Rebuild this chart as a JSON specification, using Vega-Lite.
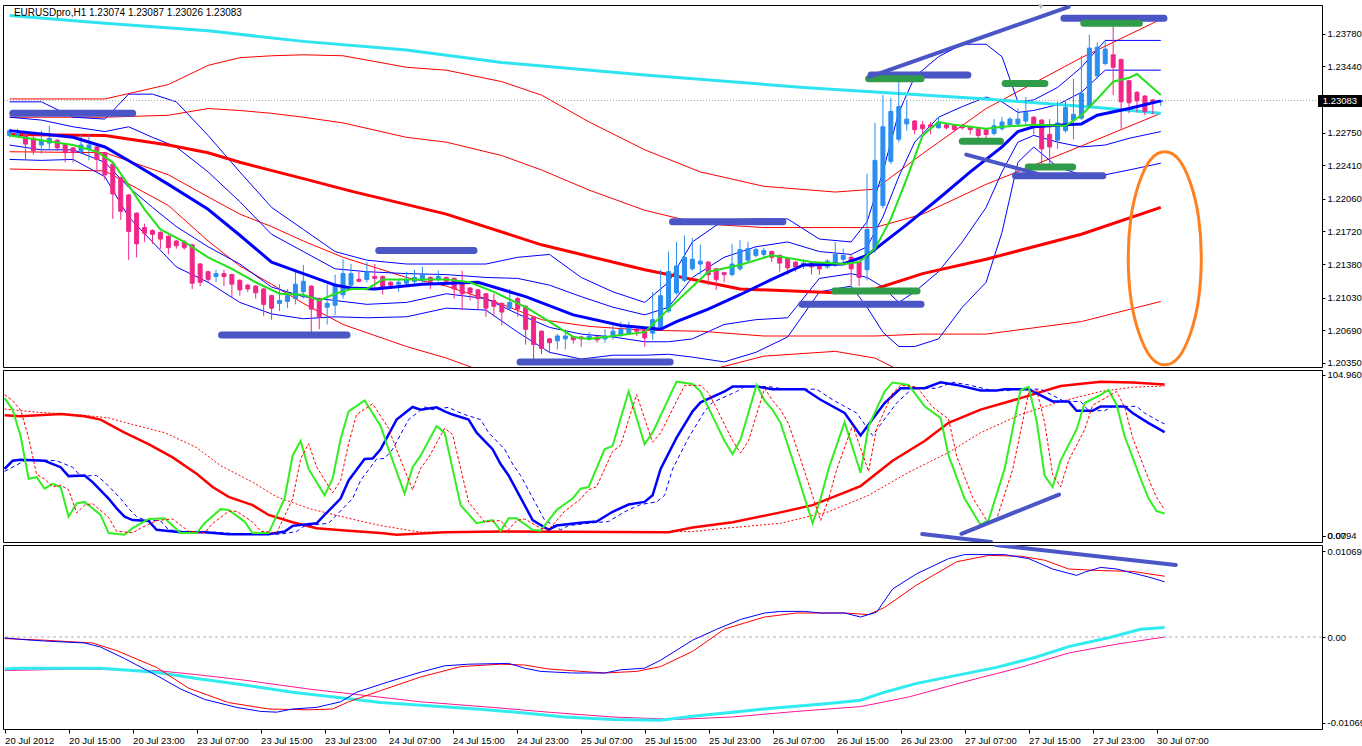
{
"$schema":"https://vega.github.io/schema/vega-lite/v6.json",
"background":"#ffffff",
"padding":{"left":2,"top":3,"right":0,"bottom":0},
"spacing":3,
"bounds":"flush",
"config":{
 "font":"Liberation Sans",
 "concat":{"spacing":3},
 "view":{"stroke":"#000000","strokeWidth":1},
 "axis":{"labelFont":"Liberation Sans","labelFontSize":9.5,"labelColor":"#000000","domain":false,"grid":false,"ticks":true,"tickSize":3,"tickColor":"#000000","labelPadding":2,"labelOverlap":false,"labelFlush":false}
},
"datasets":{
"candles":[
{"i":0,"o":1.2272,"h":1.2279,"l":1.2270,"c":1.2277},
{"i":1,"o":1.2272,"h":1.2279,"l":1.2270,"c":1.2274},
{"i":2,"o":1.2274,"h":1.2276,"l":1.2247,"c":1.2263},
{"i":3,"o":1.2269,"h":1.2271,"l":1.2252,"c":1.2256},
{"i":4,"o":1.2262,"h":1.2277,"l":1.2253,"c":1.2266},
{"i":5,"o":1.2264,"h":1.2282,"l":1.2258,"c":1.2269},
{"i":6,"o":1.2267,"h":1.2268,"l":1.2256,"c":1.2259},
{"i":7,"o":1.2263,"h":1.2264,"l":1.2244,"c":1.2254},
{"i":8,"o":1.2259,"h":1.2260,"l":1.2244,"c":1.2254},
{"i":9,"o":1.2255,"h":1.2273,"l":1.2253,"c":1.2262},
{"i":10,"o":1.2258,"h":1.2273,"l":1.2246,"c":1.2262},
{"i":11,"o":1.2260,"h":1.2262,"l":1.2234,"c":1.2247},
{"i":12,"o":1.2254,"h":1.2255,"l":1.2226,"c":1.2231},
{"i":13,"o":1.2242,"h":1.2243,"l":1.2185,"c":1.2211},
{"i":14,"o":1.2228,"h":1.2229,"l":1.2184,"c":1.2193},
{"i":15,"o":1.2210,"h":1.2211,"l":1.2142,"c":1.2172},
{"i":16,"o":1.2191,"h":1.2192,"l":1.2145,"c":1.2159},
{"i":17,"o":1.2176,"h":1.2180,"l":1.2161,"c":1.2170},
{"i":18,"o":1.2173,"h":1.2174,"l":1.2159,"c":1.2169},
{"i":19,"o":1.2171,"h":1.2172,"l":1.2154,"c":1.2164},
{"i":20,"o":1.2167,"h":1.2168,"l":1.2148,"c":1.2155},
{"i":21,"o":1.2162,"h":1.2163,"l":1.2154,"c":1.2157},
{"i":22,"o":1.2161,"h":1.2163,"l":1.2153,"c":1.2155},
{"i":23,"o":1.2158,"h":1.2159,"l":1.2112,"c":1.2118},
{"i":24,"o":1.2138,"h":1.2139,"l":1.2115,"c":1.2119},
{"i":25,"o":1.2130,"h":1.2131,"l":1.2119,"c":1.2122},
{"i":26,"o":1.2125,"h":1.2132,"l":1.2119,"c":1.2128},
{"i":27,"o":1.2128,"h":1.2132,"l":1.2115,"c":1.2125},
{"i":28,"o":1.2127,"h":1.2128,"l":1.2103,"c":1.2117},
{"i":29,"o":1.2121,"h":1.2122,"l":1.2105,"c":1.2111},
{"i":30,"o":1.2116,"h":1.2117,"l":1.2109,"c":1.2112},
{"i":31,"o":1.2115,"h":1.2116,"l":1.2102,"c":1.2108},
{"i":32,"o":1.2112,"h":1.2113,"l":1.2084,"c":1.2096},
{"i":33,"o":1.2105,"h":1.2106,"l":1.2080,"c":1.2092},
{"i":34,"o":1.2097,"h":1.2117,"l":1.2089,"c":1.2100},
{"i":35,"o":1.2099,"h":1.2112,"l":1.2092,"c":1.2105},
{"i":36,"o":1.2102,"h":1.2132,"l":1.2096,"c":1.2117},
{"i":37,"o":1.2109,"h":1.2137,"l":1.2102,"c":1.2120},
{"i":38,"o":1.2115,"h":1.2116,"l":1.2067,"c":1.2091},
{"i":39,"o":1.2102,"h":1.2103,"l":1.2070,"c":1.2083},
{"i":40,"o":1.2093,"h":1.2117,"l":1.2075,"c":1.2097},
{"i":41,"o":1.2095,"h":1.2127,"l":1.2085,"c":1.2117},
{"i":42,"o":1.2106,"h":1.2143,"l":1.2102,"c":1.2128},
{"i":43,"o":1.2116,"h":1.2138,"l":1.2114,"c":1.2128},
{"i":44,"o":1.2122,"h":1.2130,"l":1.2119,"c":1.2120},
{"i":45,"o":1.2122,"h":1.2140,"l":1.2119,"c":1.2130},
{"i":46,"o":1.2125,"h":1.2138,"l":1.2112,"c":1.2123},
{"i":47,"o":1.2125,"h":1.2126,"l":1.2106,"c":1.2113},
{"i":48,"o":1.2119,"h":1.2120,"l":1.2112,"c":1.2116},
{"i":49,"o":1.2117,"h":1.2122,"l":1.2109,"c":1.2119},
{"i":50,"o":1.2118,"h":1.2130,"l":1.2116,"c":1.2122},
{"i":51,"o":1.2120,"h":1.2132,"l":1.2117,"c":1.2124},
{"i":52,"o":1.2121,"h":1.2135,"l":1.2119,"c":1.2127},
{"i":53,"o":1.2124,"h":1.2125,"l":1.2112,"c":1.2120},
{"i":54,"o":1.2122,"h":1.2131,"l":1.2120,"c":1.2125},
{"i":55,"o":1.2124,"h":1.2125,"l":1.2116,"c":1.2120},
{"i":56,"o":1.2123,"h":1.2124,"l":1.2102,"c":1.2112},
{"i":57,"o":1.2118,"h":1.2131,"l":1.2090,"c":1.2107},
{"i":58,"o":1.2113,"h":1.2114,"l":1.2100,"c":1.2108},
{"i":59,"o":1.2111,"h":1.2112,"l":1.2091,"c":1.2102},
{"i":60,"o":1.2107,"h":1.2108,"l":1.2083,"c":1.2092},
{"i":61,"o":1.2100,"h":1.2107,"l":1.2083,"c":1.2094},
{"i":62,"o":1.2097,"h":1.2098,"l":1.2074,"c":1.2088},
{"i":63,"o":1.2092,"h":1.2112,"l":1.2090,"c":1.2098},
{"i":64,"o":1.2102,"h":1.2104,"l":1.2083,"c":1.2091},
{"i":65,"o":1.2094,"h":1.2095,"l":1.2054,"c":1.2070},
{"i":66,"o":1.2083,"h":1.2084,"l":1.2039,"c":1.2054},
{"i":67,"o":1.2068,"h":1.2069,"l":1.2044,"c":1.2050},
{"i":68,"o":1.2060,"h":1.2061,"l":1.2046,"c":1.2056},
{"i":69,"o":1.2058,"h":1.2065,"l":1.2049,"c":1.2063},
{"i":70,"o":1.2060,"h":1.2070,"l":1.2049,"c":1.2063},
{"i":71,"o":1.2062,"h":1.2063,"l":1.2055,"c":1.2059},
{"i":72,"o":1.2062,"h":1.2063,"l":1.2052,"c":1.2060},
{"i":73,"o":1.2060,"h":1.2067,"l":1.2058,"c":1.2063},
{"i":74,"o":1.2062,"h":1.2063,"l":1.2056,"c":1.2059},
{"i":75,"o":1.2060,"h":1.2070,"l":1.2056,"c":1.2063},
{"i":76,"o":1.2062,"h":1.2074,"l":1.2059,"c":1.2068},
{"i":77,"o":1.2064,"h":1.2078,"l":1.2062,"c":1.2070},
{"i":78,"o":1.2066,"h":1.2078,"l":1.2064,"c":1.2073},
{"i":79,"o":1.2070,"h":1.2073,"l":1.2063,"c":1.2068},
{"i":80,"o":1.2070,"h":1.2071,"l":1.2052,"c":1.2061},
{"i":81,"o":1.2066,"h":1.2109,"l":1.2059,"c":1.2080},
{"i":82,"o":1.2072,"h":1.2132,"l":1.2070,"c":1.2105},
{"i":83,"o":1.2089,"h":1.2151,"l":1.2087,"c":1.2130},
{"i":84,"o":1.2108,"h":1.2161,"l":1.2106,"c":1.2136},
{"i":85,"o":1.2121,"h":1.2168,"l":1.2119,"c":1.2145},
{"i":86,"o":1.2133,"h":1.2165,"l":1.2131,"c":1.2143},
{"i":87,"o":1.2138,"h":1.2158,"l":1.2127,"c":1.2141},
{"i":88,"o":1.2140,"h":1.2141,"l":1.2116,"c":1.2127},
{"i":89,"o":1.2133,"h":1.2134,"l":1.2111,"c":1.2122},
{"i":90,"o":1.2129,"h":1.2130,"l":1.2119,"c":1.2127},
{"i":91,"o":1.2127,"h":1.2159,"l":1.2125,"c":1.2138},
{"i":92,"o":1.2133,"h":1.2163,"l":1.2131,"c":1.2153},
{"i":93,"o":1.2142,"h":1.2161,"l":1.2140,"c":1.2154},
{"i":94,"o":1.2147,"h":1.2155,"l":1.2145,"c":1.2153},
{"i":95,"o":1.2148,"h":1.2155,"l":1.2145,"c":1.2152},
{"i":96,"o":1.2151,"h":1.2152,"l":1.2140,"c":1.2145},
{"i":97,"o":1.2147,"h":1.2148,"l":1.2130,"c":1.2139},
{"i":98,"o":1.2144,"h":1.2145,"l":1.2127,"c":1.2134},
{"i":99,"o":1.2140,"h":1.2141,"l":1.2130,"c":1.2135},
{"i":100,"o":1.2137,"h":1.2143,"l":1.2133,"c":1.2139},
{"i":101,"o":1.2139,"h":1.2140,"l":1.2127,"c":1.2135},
{"i":102,"o":1.2138,"h":1.2139,"l":1.2127,"c":1.2133},
{"i":103,"o":1.2135,"h":1.2143,"l":1.2133,"c":1.2141},
{"i":104,"o":1.2137,"h":1.2161,"l":1.2135,"c":1.2148},
{"i":105,"o":1.2143,"h":1.2154,"l":1.2138,"c":1.2147},
{"i":106,"o":1.2145,"h":1.2148,"l":1.2116,"c":1.2133},
{"i":107,"o":1.2140,"h":1.2141,"l":1.2115,"c":1.2124},
{"i":108,"o":1.2132,"h":1.2232,"l":1.2121,"c":1.2174},
{"i":109,"o":1.2154,"h":1.2285,"l":1.2150,"c":1.2246},
{"i":110,"o":1.2199,"h":1.2314,"l":1.2196,"c":1.2281},
{"i":111,"o":1.2245,"h":1.2311,"l":1.2242,"c":1.2297},
{"i":112,"o":1.2268,"h":1.2328,"l":1.2265,"c":1.2302},
{"i":113,"o":1.2284,"h":1.2309,"l":1.2277,"c":1.2289},
{"i":114,"o":1.2287,"h":1.2288,"l":1.2273,"c":1.2278},
{"i":115,"o":1.2283,"h":1.2287,"l":1.2274,"c":1.2279},
{"i":116,"o":1.2283,"h":1.2286,"l":1.2273,"c":1.2281},
{"i":117,"o":1.2280,"h":1.2291,"l":1.2279,"c":1.2286},
{"i":118,"o":1.2283,"h":1.2284,"l":1.2278,"c":1.2280},
{"i":119,"o":1.2283,"h":1.2284,"l":1.2276,"c":1.2278},
{"i":120,"o":1.2281,"h":1.2284,"l":1.2278,"c":1.2280},
{"i":121,"o":1.2281,"h":1.2282,"l":1.2273,"c":1.2278},
{"i":122,"o":1.2279,"h":1.2280,"l":1.2268,"c":1.2272},
{"i":123,"o":1.2278,"h":1.2279,"l":1.2268,"c":1.2273},
{"i":124,"o":1.2274,"h":1.2289,"l":1.2272,"c":1.2282},
{"i":125,"o":1.2279,"h":1.2291,"l":1.2277,"c":1.2286},
{"i":126,"o":1.2283,"h":1.2291,"l":1.2281,"c":1.2289},
{"i":127,"o":1.2284,"h":1.2300,"l":1.2282,"c":1.2289},
{"i":128,"o":1.2287,"h":1.2312,"l":1.2283,"c":1.2296},
{"i":129,"o":1.2291,"h":1.2292,"l":1.2273,"c":1.2283},
{"i":130,"o":1.2288,"h":1.2289,"l":1.2241,"c":1.2258},
{"i":131,"o":1.2273,"h":1.2289,"l":1.2241,"c":1.2260},
{"i":132,"o":1.2267,"h":1.2307,"l":1.2258,"c":1.2285},
{"i":133,"o":1.2277,"h":1.2309,"l":1.2275,"c":1.2301},
{"i":134,"o":1.2288,"h":1.2331,"l":1.2268,"c":1.2294},
{"i":135,"o":1.2290,"h":1.2355,"l":1.2288,"c":1.2316},
{"i":136,"o":1.2303,"h":1.2377,"l":1.2301,"c":1.2363},
{"i":137,"o":1.2334,"h":1.2369,"l":1.2331,"c":1.2364},
{"i":138,"o":1.2347,"h":1.2370,"l":1.2345,"c":1.2362},
{"i":139,"o":1.2356,"h":1.2387,"l":1.2314,"c":1.2343},
{"i":140,"o":1.2351,"h":1.2352,"l":1.2279,"c":1.2307},
{"i":141,"o":1.2329,"h":1.2330,"l":1.2295,"c":1.2306},
{"i":142,"o":1.2317,"h":1.2318,"l":1.2296,"c":1.2308},
{"i":143,"o":1.2313,"h":1.2314,"l":1.2293,"c":1.2297},
{"i":144,"o":1.2309,"h":1.2310,"l":1.2294,"c":1.2307},
{"i":145,"o":1.23074,"h":1.23087,"l":1.23026,"c":1.23083}
],
"bb":[
{"i":0,"uo":1.2307,"ui":1.2291,"li":1.2262,"lo":1.2247},
{"i":4,"uo":1.2307,"ui":1.2288,"li":1.2257,"lo":1.2246},
{"i":8,"uo":1.2291,"ui":1.2281,"li":1.2257,"lo":1.2247},
{"i":12,"uo":1.2289,"ui":1.2276,"li":1.2244,"lo":1.2229},
{"i":15,"uo":1.2315,"ui":1.2281,"li":1.2218,"lo":1.2187},
{"i":18,"uo":1.2315,"ui":1.2270,"li":1.2197,"lo":1.2161},
{"i":21,"uo":1.2307,"ui":1.2260,"li":1.2177,"lo":1.2135},
{"i":25,"uo":1.2272,"ui":1.2234,"li":1.2156,"lo":1.2119},
{"i":29,"uo":1.2234,"ui":1.2203,"li":1.2138,"lo":1.2098},
{"i":33,"uo":1.2197,"ui":1.2169,"li":1.2114,"lo":1.2086},
{"i":37,"uo":1.2174,"ui":1.2151,"li":1.2104,"lo":1.2081},
{"i":41,"uo":1.2151,"ui":1.2133,"li":1.2100,"lo":1.2083},
{"i":45,"uo":1.2142,"ui":1.2130,"li":1.2096,"lo":1.2082},
{"i":50,"uo":1.2138,"ui":1.2128,"li":1.2098,"lo":1.2083},
{"i":55,"uo":1.2138,"ui":1.2127,"li":1.2107,"lo":1.2092},
{"i":60,"uo":1.2138,"ui":1.2124,"li":1.2102,"lo":1.2090},
{"i":64,"uo":1.2145,"ui":1.2123,"li":1.2086,"lo":1.2067},
{"i":68,"uo":1.2148,"ui":1.2116,"li":1.2072,"lo":1.2046},
{"i":72,"uo":1.2124,"ui":1.2104,"li":1.2065,"lo":1.2039},
{"i":76,"uo":1.2109,"ui":1.2093,"li":1.2062,"lo":1.2043},
{"i":80,"uo":1.2098,"ui":1.2085,"li":1.2057,"lo":1.2043},
{"i":83,"uo":1.2119,"ui":1.2093,"li":1.2057,"lo":1.2044},
{"i":86,"uo":1.2161,"ui":1.2124,"li":1.2060,"lo":1.2041},
{"i":90,"uo":1.2184,"ui":1.2145,"li":1.2075,"lo":1.2036},
{"i":94,"uo":1.2185,"ui":1.2156,"li":1.2080,"lo":1.2046},
{"i":98,"uo":1.2185,"ui":1.2161,"li":1.2082,"lo":1.2062},
{"i":102,"uo":1.2164,"ui":1.2151,"li":1.2123,"lo":1.2109},
{"i":106,"uo":1.2161,"ui":1.2148,"li":1.2128,"lo":1.2115},
{"i":108,"uo":1.2182,"ui":1.2156,"li":1.2124,"lo":1.2093},
{"i":110,"uo":1.2234,"ui":1.2187,"li":1.2114,"lo":1.2067},
{"i":112,"uo":1.2296,"ui":1.2229,"li":1.2098,"lo":1.2052},
{"i":114,"uo":1.2333,"ui":1.2265,"li":1.2109,"lo":1.2052},
{"i":117,"uo":1.2354,"ui":1.2291,"li":1.2130,"lo":1.2060},
{"i":120,"uo":1.2367,"ui":1.2302,"li":1.2161,"lo":1.2093},
{"i":123,"uo":1.2367,"ui":1.2312,"li":1.2197,"lo":1.2119},
{"i":125,"uo":1.2354,"ui":1.2307,"li":1.2234,"lo":1.2171},
{"i":127,"uo":1.2307,"ui":1.2296,"li":1.2265,"lo":1.2244},
{"i":129,"uo":1.2309,"ui":1.2298,"li":1.2272,"lo":1.2260},
{"i":132,"uo":1.2322,"ui":1.2304,"li":1.2265,"lo":1.2239},
{"i":135,"uo":1.2343,"ui":1.2317,"li":1.2260,"lo":1.2231},
{"i":138,"uo":1.2371,"ui":1.2340,"li":1.2262,"lo":1.2231},
{"i":141,"uo":1.2371,"ui":1.2340,"li":1.2269,"lo":1.2236},
{"i":145,"uo":1.2371,"ui":1.2340,"li":1.2276,"lo":1.2243}
],
"rb":[
{"i":0,"uo":1.2310,"ui":1.2291,"li":1.2255,"lo":1.2237},
{"i":12,"uo":1.2310,"ui":1.2291,"li":1.2254,"lo":1.2235},
{"i":20,"uo":1.2325,"ui":1.2293,"li":1.2231,"lo":1.2199},
{"i":25,"uo":1.2345,"ui":1.2300,"li":1.2208,"lo":1.2162},
{"i":29,"uo":1.2353,"ui":1.2298,"li":1.2190,"lo":1.2136},
{"i":33,"uo":1.2355,"ui":1.2295,"li":1.2177,"lo":1.2117},
{"i":37,"uo":1.2356,"ui":1.2291,"li":1.2162,"lo":1.2097},
{"i":42,"uo":1.2355,"ui":1.2285,"li":1.2145,"lo":1.2075},
{"i":50,"uo":1.2343,"ui":1.2270,"li":1.2124,"lo":1.2052},
{"i":55,"uo":1.2340,"ui":1.2265,"li":1.2115,"lo":1.2040},
{"i":62,"uo":1.2328,"ui":1.2251,"li":1.2096,"lo":1.2019},
{"i":67,"uo":1.2314,"ui":1.2236,"li":1.2080,"lo":1.2002},
{"i":73,"uo":1.2286,"ui":1.2215,"li":1.2073,"lo":1.2003},
{"i":80,"uo":1.2257,"ui":1.2194,"li":1.2069,"lo":1.2007},
{"i":87,"uo":1.2234,"ui":1.2180,"li":1.2068,"lo":1.2025},
{"i":95,"uo":1.2219,"ui":1.2176,"li":1.2063,"lo":1.2042},
{"i":104,"uo":1.2213,"ui":1.2176,"li":1.2063,"lo":1.2047},
{"i":109,"uo":1.2216,"ui":1.2176,"li":1.2063,"lo":1.2040},
{"i":115,"uo":1.2253,"ui":1.2190,"li":1.2065,"lo":1.2015},
{"i":123,"uo":1.2300,"ui":1.2221,"li":1.2065,"lo":1.1987},
{"i":135,"uo":1.2353,"ui":1.2261,"li":1.2078,"lo":1.1986},
{"i":145,"uo":1.2393,"ui":1.2295,"li":1.2099,"lo":1.2002}
],
"cma":[{"i":0,"p":1.2397},{"i":12,"p":1.2389},{"i":25,"p":1.2381},{"i":37,"p":1.2370},{"i":50,"p":1.2361},{"i":62,"p":1.2348},{"i":80,"p":1.2335},{"i":100,"p":1.2322},{"i":123,"p":1.2310},{"i":137,"p":1.2301},{"i":145,"p":1.2295}],
"rma":[{"i":0,"p":1.2273},{"i":12,"p":1.2272},{"i":20,"p":1.2262},{"i":25,"p":1.2254},{"i":29,"p":1.2244},{"i":37,"p":1.2227},{"i":43,"p":1.2214},{"i":55,"p":1.2190},{"i":67,"p":1.2158},{"i":80,"p":1.2132},{"i":92,"p":1.2112},{"i":104,"p":1.2108},{"i":109,"p":1.2112},{"i":115,"p":1.2128},{"i":123,"p":1.2143},{"i":135,"p":1.2169},{"i":145,"p":1.2197}],
"bma":[{"i":0,"p":1.2277},{"i":8,"p":1.2270},{"i":12,"p":1.2260},{"i":16,"p":1.2241},{"i":20,"p":1.2221},{"i":25,"p":1.2195},{"i":29,"p":1.2168},{"i":33,"p":1.2140},{"i":37,"p":1.2128},{"i":41,"p":1.2116},{"i":43,"p":1.2113},{"i":46,"p":1.2112},{"i":52,"p":1.2117},{"i":59,"p":1.2119},{"i":65,"p":1.2104},{"i":71,"p":1.2085},{"i":77,"p":1.2074},{"i":82,"p":1.2070},{"i":84,"p":1.2078},{"i":88,"p":1.2091},{"i":92,"p":1.2106},{"i":96,"p":1.2122},{"i":100,"p":1.2137},{"i":105,"p":1.2138},{"i":108,"p":1.2147},{"i":113,"p":1.2179},{"i":117,"p":1.2206},{"i":121,"p":1.2234},{"i":125,"p":1.2260},{"i":127,"p":1.2276},{"i":129,"p":1.2281},{"i":133,"p":1.2283},{"i":135,"p":1.2284},{"i":137,"p":1.2293},{"i":141,"p":1.2300},{"i":145,"p":1.2308}],
"gma":[{"i":0,"p":1.2272},{"i":4,"p":1.2267},{"i":8,"p":1.2262},{"i":11,"p":1.2255},{"i":13,"p":1.2244},{"i":15,"p":1.2220},{"i":17,"p":1.2195},{"i":19,"p":1.2174},{"i":22,"p":1.2161},{"i":25,"p":1.2145},{"i":28,"p":1.2133},{"i":31,"p":1.2119},{"i":34,"p":1.2107},{"i":37,"p":1.2106},{"i":39,"p":1.2100},{"i":41,"p":1.2107},{"i":43,"p":1.2112},{"i":45,"p":1.2112},{"i":47,"p":1.2122},{"i":51,"p":1.2122},{"i":55,"p":1.2122},{"i":58,"p":1.2119},{"i":61,"p":1.2109},{"i":65,"p":1.2093},{"i":68,"p":1.2078},{"i":71,"p":1.2062},{"i":73,"p":1.2060},{"i":77,"p":1.2064},{"i":80,"p":1.2067},{"i":83,"p":1.2091},{"i":88,"p":1.2130},{"i":92,"p":1.2137},{"i":96,"p":1.2147},{"i":99,"p":1.2143},{"i":101,"p":1.2140},{"i":105,"p":1.2138},{"i":107,"p":1.2140},{"i":109,"p":1.2154},{"i":111,"p":1.2185},{"i":113,"p":1.2227},{"i":115,"p":1.2272},{"i":117,"p":1.2286},{"i":119,"p":1.2283},{"i":123,"p":1.2279},{"i":125,"p":1.2281},{"i":129,"p":1.2283},{"i":133,"p":1.2282},{"i":135,"p":1.2293},{"i":137,"p":1.2310},{"i":139,"p":1.2328},{"i":141,"p":1.2332},{"i":142,"p":1.2336},{"i":145,"p":1.2314}],
"levels":[
{"a":0.4,"b":15.5,"p":1.2295,"c":"b"},{"a":26.7,"b":42.5,"p":1.2064,"c":"b"},{"a":46.5,"b":58.5,"p":1.2152,"c":"b"},{"a":64.3,"b":83.2,"p":1.2036,"c":"b"},{"a":83.5,"b":97.4,"p":1.2182,"c":"b"},{"a":99.8,"b":114.8,"p":1.2096,"c":"b"},{"a":108.5,"b":120.7,"p":1.2335,"c":"b"},{"a":126.7,"b":137.7,"p":1.2230,"c":"b"},{"a":132.8,"b":145.4,"p":1.2394,"c":"b"},
{"a":108.2,"b":114.8,"p":1.2331,"c":"g"},{"a":103.9,"b":114.3,"p":1.2110,"c":"g"},{"a":125.4,"b":130.4,"p":1.2326,"c":"g"},{"a":120,"b":124.8,"p":1.2266,"c":"g"},{"a":128.3,"b":133.9,"p":1.2239,"c":"g"},{"a":135.3,"b":142.3,"p":1.2389,"c":"g"}
],
"trends":[{"a":108.3,"b":133.4,"p1":1.2333,"p2":1.2406},{"a":120.5,"b":129.5,"p1":1.2252,"p2":1.2232}],
"ellipse":[{"o":0,"i":150.1,"p":1.2144},{"o":1,"i":149.75,"p":1.2187},{"o":2,"i":148.75,"p":1.2222},{"o":3,"i":147.26,"p":1.2247},{"o":4,"i":145.5,"p":1.2255},{"o":5,"i":143.74,"p":1.2247},{"o":6,"i":142.25,"p":1.2222},{"o":7,"i":141.25,"p":1.2187},{"o":8,"i":140.9,"p":1.2144},{"o":9,"i":141.25,"p":1.2101},{"o":10,"i":142.25,"p":1.2066},{"o":11,"i":143.74,"p":1.2041},{"o":12,"i":145.5,"p":1.2033},{"o":13,"i":147.26,"p":1.2041},{"o":14,"i":148.75,"p":1.2066},{"o":15,"i":149.75,"p":1.2101}],
"sg":[{"i":0,"v":89.7},{"i":1,"v":82.2},{"i":2,"v":65},{"i":3,"v":37.2},{"i":4,"v":38.2},{"i":5,"v":30.7},{"i":6,"v":33.9},{"i":7,"v":31.8},{"i":8,"v":12.5},{"i":9,"v":21.1},{"i":10,"v":22.1},{"i":12,"v":13.6},{"i":13,"v":1.8},{"i":15,"v":0.7},{"i":16,"v":5},{"i":18,"v":11},{"i":20,"v":11.4},{"i":22,"v":1.8},{"i":24,"v":1.8},{"i":25,"v":8.2},{"i":27,"v":17.4},{"i":28,"v":16.8},{"i":30,"v":9.3},{"i":31,"v":1.8},{"i":33,"v":1.8},{"i":35,"v":24.3},{"i":36,"v":52.2},{"i":37,"v":61.8},{"i":38,"v":43.6},{"i":40,"v":26.4},{"i":41,"v":37.2},{"i":42,"v":62.9},{"i":43,"v":81.1},{"i":45,"v":88.2},{"i":47,"v":71.5},{"i":48,"v":56.4},{"i":50,"v":27.5},{"i":51,"v":44.7},{"i":52,"v":52.2},{"i":54,"v":71.5},{"i":55,"v":67.2},{"i":57,"v":20},{"i":59,"v":8.2},{"i":61,"v":10.3},{"i":62,"v":3.3},{"i":63,"v":11.4},{"i":64,"v":11.4},{"i":66,"v":4},{"i":67,"v":3.3},{"i":69,"v":16.8},{"i":71,"v":24.3},{"i":72,"v":30.7},{"i":73,"v":31.8},{"i":75,"v":56.4},{"i":76,"v":58.6},{"i":78,"v":94},{"i":80,"v":59.7},{"i":81,"v":67.2},{"i":84,"v":100.4},{"i":86,"v":98.9},{"i":87,"v":94},{"i":88,"v":83.2},{"i":90,"v":61.8},{"i":91,"v":53.2},{"i":92,"v":62.9},{"i":94,"v":98.3},{"i":95,"v":88},{"i":96,"v":82},{"i":97,"v":73.6},{"i":99,"v":41.4},{"i":101,"v":8.2},{"i":102,"v":24.3},{"i":103,"v":43.6},{"i":105,"v":74},{"i":107,"v":41},{"i":108,"v":71.5},{"i":110,"v":94},{"i":111,"v":99.8},{"i":113,"v":98.3},{"i":115,"v":84.3},{"i":117,"v":76.8},{"i":118,"v":52.2},{"i":120,"v":24.3},{"i":122,"v":7.1},{"i":123,"v":10.3},{"i":125,"v":43.6},{"i":127,"v":95},{"i":128,"v":97},{"i":129,"v":75},{"i":130,"v":39.3},{"i":131,"v":31.8},{"i":132,"v":49},{"i":134,"v":69.3},{"i":135,"v":86.5},{"i":137,"v":91.8},{"i":138,"v":95},{"i":139,"v":85.4},{"i":140,"v":65},{"i":142,"v":37.2},{"i":143,"v":24.3},{"i":144,"v":16.1},{"i":145,"v":14.6}],
"sr":[{"i":0,"v":92},{"i":1,"v":88},{"i":2,"v":82},{"i":3,"v":64},{"i":4,"v":40},{"i":5,"v":37},{"i":6,"v":32},{"i":7,"v":33},{"i":8,"v":30},{"i":9,"v":15},{"i":10,"v":20},{"i":11,"v":21},{"i":13,"v":12},{"i":14,"v":3},{"i":16,"v":2},{"i":17,"v":5},{"i":19,"v":10},{"i":21,"v":11},{"i":23,"v":3},{"i":25,"v":2},{"i":26,"v":8},{"i":28,"v":16},{"i":29,"v":16},{"i":31,"v":9},{"i":32,"v":3},{"i":34,"v":2},{"i":36,"v":24},{"i":37,"v":50},{"i":38,"v":60},{"i":39,"v":45},{"i":41,"v":28},{"i":42,"v":36},{"i":43,"v":60},{"i":44,"v":79},{"i":46,"v":86},{"i":48,"v":70},{"i":49,"v":56},{"i":51,"v":30},{"i":52,"v":44},{"i":53,"v":51},{"i":55,"v":70},{"i":56,"v":66},{"i":58,"v":22},{"i":60,"v":9},{"i":62,"v":10},{"i":63,"v":4},{"i":64,"v":10},{"i":65,"v":11},{"i":67,"v":5},{"i":68,"v":4},{"i":70,"v":16},{"i":72,"v":24},{"i":73,"v":30},{"i":74,"v":32},{"i":76,"v":55},{"i":77,"v":59},{"i":79,"v":92},{"i":81,"v":61},{"i":82,"v":67},{"i":85,"v":98},{"i":87,"v":98},{"i":88,"v":93},{"i":89,"v":83},{"i":91,"v":62},{"i":92,"v":54},{"i":93,"v":62},{"i":95,"v":96},{"i":96,"v":88},{"i":97,"v":82},{"i":98,"v":73},{"i":100,"v":42},{"i":102,"v":10},{"i":103,"v":24},{"i":104,"v":43},{"i":106,"v":72},{"i":108,"v":42},{"i":109,"v":70},{"i":111,"v":93},{"i":112,"v":98},{"i":114,"v":97},{"i":116,"v":84},{"i":118,"v":76},{"i":119,"v":52},{"i":121,"v":25},{"i":123,"v":8},{"i":124,"v":11},{"i":126,"v":43},{"i":128,"v":93},{"i":129,"v":95},{"i":130,"v":74},{"i":131,"v":40},{"i":132,"v":32},{"i":133,"v":49},{"i":135,"v":69},{"i":136,"v":85},{"i":138,"v":91},{"i":139,"v":94},{"i":140,"v":84},{"i":141,"v":64},{"i":143,"v":37},{"i":144,"v":25},{"i":145,"v":17}],
"sb":[{"i":0,"v":43.6},{"i":1,"v":48.9},{"i":2,"v":49.6},{"i":5,"v":48.9},{"i":7,"v":44.7},{"i":8,"v":38.9},{"i":10,"v":39.3},{"i":11,"v":35},{"i":13,"v":24.3},{"i":14,"v":17.9},{"i":15,"v":12.5},{"i":16,"v":10.3},{"i":18,"v":9.7},{"i":19,"v":3.9},{"i":22,"v":2.4},{"i":25,"v":2.4},{"i":28,"v":1.1},{"i":33,"v":1.1},{"i":35,"v":2.8},{"i":36,"v":6.5},{"i":39,"v":8.2},{"i":40,"v":13.6},{"i":42,"v":24.3},{"i":43,"v":36.1},{"i":45,"v":50},{"i":46,"v":50.4},{"i":47,"v":56.4},{"i":49,"v":75.7},{"i":51,"v":83.9},{"i":52,"v":82.2},{"i":54,"v":83.7},{"i":55,"v":81.1},{"i":56,"v":79},{"i":58,"v":75.7},{"i":59,"v":67.2},{"i":61,"v":56.4},{"i":62,"v":46.8},{"i":63,"v":39.3},{"i":65,"v":20},{"i":66,"v":10.3},{"i":68,"v":3.9},{"i":69,"v":6.7},{"i":72,"v":8.5},{"i":74,"v":9.3},{"i":76,"v":15.7},{"i":78,"v":20.4},{"i":80,"v":22.1},{"i":81,"v":26.4},{"i":82,"v":43.6},{"i":84,"v":63.9},{"i":86,"v":81.1},{"i":87,"v":86.9},{"i":90,"v":94},{"i":91,"v":97.2},{"i":94,"v":97.2},{"i":96,"v":95.5},{"i":100,"v":95.5},{"i":102,"v":88.6},{"i":105,"v":80},{"i":107,"v":65.4},{"i":108,"v":72.5},{"i":110,"v":86.5},{"i":112,"v":96.1},{"i":115,"v":96.1},{"i":117,"v":100},{"i":119,"v":98.3},{"i":122,"v":94.6},{"i":124,"v":94.6},{"i":125,"v":95.5},{"i":128,"v":95.5},{"i":131,"v":87.5},{"i":133,"v":87.5},{"i":134,"v":81.5},{"i":136,"v":81.5},{"i":137,"v":84.3},{"i":140,"v":84.3},{"i":141,"v":80},{"i":143,"v":73.4},{"i":145,"v":67.6}],
"sbd":[{"i":0,"v":42},{"i":2.5,"v":48.9},{"i":3.5,"v":49.6},{"i":6.5,"v":48.9},{"i":8.5,"v":44.7},{"i":9.5,"v":38.9},{"i":11.5,"v":39.3},{"i":12.5,"v":35},{"i":14.5,"v":24.3},{"i":15.5,"v":17.9},{"i":16.5,"v":12.5},{"i":17.5,"v":10.3},{"i":19.5,"v":9.7},{"i":20.5,"v":3.9},{"i":23.5,"v":2.4},{"i":26.5,"v":2.4},{"i":29.5,"v":1.1},{"i":34.5,"v":1.1},{"i":36.5,"v":2.8},{"i":37.5,"v":6.5},{"i":40.5,"v":8.2},{"i":41.5,"v":13.6},{"i":43.5,"v":24.3},{"i":44.5,"v":36.1},{"i":46.5,"v":50},{"i":47.5,"v":50.4},{"i":48.5,"v":56.4},{"i":50.5,"v":75.7},{"i":52.5,"v":83.9},{"i":53.5,"v":82.2},{"i":55.5,"v":83.7},{"i":56.5,"v":81.1},{"i":57.5,"v":79},{"i":59.5,"v":75.7},{"i":60.5,"v":67.2},{"i":62.5,"v":56.4},{"i":63.5,"v":46.8},{"i":64.5,"v":39.3},{"i":66.5,"v":20},{"i":67.5,"v":10.3},{"i":69.5,"v":3.9},{"i":70.5,"v":6.7},{"i":73.5,"v":8.5},{"i":75.5,"v":9.3},{"i":77.5,"v":15.7},{"i":79.5,"v":20.4},{"i":81.5,"v":22.1},{"i":82.5,"v":26.4},{"i":83.5,"v":43.6},{"i":85.5,"v":63.9},{"i":87.5,"v":81.1},{"i":88.5,"v":86.9},{"i":91.5,"v":94},{"i":92.5,"v":97.2},{"i":95.5,"v":97.2},{"i":97.5,"v":95.5},{"i":101.5,"v":95.5},{"i":103.5,"v":88.6},{"i":106.5,"v":80},{"i":108.5,"v":65.4},{"i":109.5,"v":72.5},{"i":111.5,"v":86.5},{"i":113.5,"v":96.1},{"i":116.5,"v":96.1},{"i":118.5,"v":100},{"i":120.5,"v":98.3},{"i":123.5,"v":94.6},{"i":125.5,"v":94.6},{"i":126.5,"v":95.5},{"i":129.5,"v":95.5},{"i":132.5,"v":87.5},{"i":134.5,"v":87.5},{"i":135.5,"v":81.5},{"i":137.5,"v":81.5},{"i":138.5,"v":84.3},{"i":141.5,"v":84.3},{"i":142.5,"v":80},{"i":144.5,"v":74},{"i":145,"v":73}],
"srt":[{"i":0,"v":78.5},{"i":2,"v":77.9},{"i":7,"v":79.4},{"i":10,"v":77.9},{"i":12,"v":75.7},{"i":15,"v":67.2},{"i":18,"v":59.7},{"i":21,"v":51.1},{"i":24,"v":40.4},{"i":26,"v":31.8},{"i":28,"v":25.4},{"i":31,"v":20},{"i":33,"v":13.6},{"i":36,"v":8.9},{"i":39,"v":5},{"i":43,"v":3.3},{"i":47,"v":1.8},{"i":49,"v":0.7},{"i":55,"v":2.4},{"i":62,"v":2.8},{"i":83,"v":2.4},{"i":86,"v":5.4},{"i":91,"v":8.8},{"i":97,"v":15.3},{"i":101,"v":20},{"i":107,"v":32.4},{"i":111,"v":48.9},{"i":115,"v":61.8},{"i":118,"v":73.6},{"i":122,"v":82.2},{"i":127,"v":89.7},{"i":132,"v":97.6},{"i":137,"v":100.4},{"i":141,"v":99.8},{"i":145,"v":98.5}],
"srd":[{"i":0,"v":82.6},{"i":4,"v":80.5},{"i":9,"v":79},{"i":13,"v":76.8},{"i":16,"v":72.5},{"i":20,"v":67.2},{"i":24,"v":57.5},{"i":27,"v":45.7},{"i":31,"v":35},{"i":34,"v":25.4},{"i":38,"v":17.9},{"i":43,"v":11.4},{"i":47,"v":6.7},{"i":52,"v":2.4},{"i":86,"v":2.8},{"i":91,"v":5.4},{"i":97,"v":8.2},{"i":103,"v":15.7},{"i":108,"v":26.4},{"i":113,"v":41.4},{"i":118,"v":54.3},{"i":122,"v":67.2},{"i":127,"v":79},{"i":132,"v":87.5},{"i":137,"v":94},{"i":141,"v":96.8},{"i":145,"v":97.6}],
"mb":[{"i":0,"v":-0.0001},{"i":2,"v":-0.0003},{"i":5,"v":-0.0005},{"i":10,"v":-0.00075},{"i":12,"v":-0.00125},{"i":15,"v":-0.0027},{"i":19,"v":-0.0048},{"i":22,"v":-0.0065},{"i":25,"v":-0.0078},{"i":29,"v":-0.0088},{"i":32,"v":-0.0093},{"i":34,"v":-0.0094},{"i":36,"v":-0.009},{"i":39,"v":-0.0088},{"i":42,"v":-0.0081},{"i":44,"v":-0.0069},{"i":48,"v":-0.0056},{"i":52,"v":-0.0044},{"i":55,"v":-0.0036},{"i":58,"v":-0.0034},{"i":63,"v":-0.0033},{"i":65,"v":-0.0039},{"i":67,"v":-0.0043},{"i":71,"v":-0.0045},{"i":75,"v":-0.0045},{"i":77,"v":-0.0041},{"i":80,"v":-0.0039},{"i":82,"v":-0.0029},{"i":86,"v":-0.0004},{"i":89,"v":0.00096},{"i":92,"v":0.0022},{"i":95,"v":0.003},{"i":97,"v":0.0032},{"i":100,"v":0.0032},{"i":102,"v":0.003},{"i":105,"v":0.003},{"i":107,"v":0.0025},{"i":109,"v":0.0031},{"i":111,"v":0.006},{"i":114,"v":0.0079},{"i":118,"v":0.0098},{"i":120,"v":0.0103},{"i":125,"v":0.0103},{"i":128,"v":0.0098},{"i":131,"v":0.0085},{"i":134,"v":0.0077},{"i":135,"v":0.0081},{"i":137,"v":0.0087},{"i":139,"v":0.0085},{"i":141,"v":0.008},{"i":143,"v":0.0075},{"i":145,"v":0.0069}],
"mr":[{"i":0,"v":-0.0002},{"i":5,"v":-0.0004},{"i":11,"v":-0.00075},{"i":14,"v":-0.0017},{"i":19,"v":-0.0038},{"i":23,"v":-0.0064},{"i":28,"v":-0.0082},{"i":33,"v":-0.009},{"i":38,"v":-0.0091},{"i":41,"v":-0.009},{"i":43,"v":-0.0081},{"i":47,"v":-0.0067},{"i":52,"v":-0.005},{"i":57,"v":-0.0037},{"i":62,"v":-0.0034},{"i":65,"v":-0.0035},{"i":68,"v":-0.004},{"i":75,"v":-0.0045},{"i":79,"v":-0.0043},{"i":82,"v":-0.0037},{"i":86,"v":-0.0018},{"i":90,"v":0.001},{"i":95,"v":0.0025},{"i":99,"v":0.003},{"i":105,"v":0.003},{"i":108,"v":0.0028},{"i":110,"v":0.0037},{"i":114,"v":0.0065},{"i":119,"v":0.0094},{"i":123,"v":0.0102},{"i":127,"v":0.0101},{"i":130,"v":0.0096},{"i":133,"v":0.0085},{"i":137,"v":0.0083},{"i":141,"v":0.0082},{"i":145,"v":0.0076}],
"mc":[{"i":0,"v":-0.004},{"i":2,"v":-0.0039},{"i":12,"v":-0.0039},{"i":19,"v":-0.0044},{"i":24,"v":-0.0052},{"i":30,"v":-0.006},{"i":36,"v":-0.0069},{"i":42,"v":-0.0076},{"i":47,"v":-0.0082},{"i":53,"v":-0.0086},{"i":59,"v":-0.009},{"i":65,"v":-0.0095},{"i":70,"v":-0.01},{"i":76,"v":-0.0103},{"i":82,"v":-0.0104},{"i":86,"v":-0.0099},{"i":91,"v":-0.0094},{"i":97,"v":-0.0088},{"i":103,"v":-0.0083},{"i":107,"v":-0.0079},{"i":110,"v":-0.0069},{"i":114,"v":-0.0058},{"i":119,"v":-0.0048},{"i":124,"v":-0.0038},{"i":129,"v":-0.0025},{"i":133,"v":-0.0012},{"i":138,"v":-0.0001},{"i":142,"v":0.00096},{"i":145,"v":0.0012}],
"mm":[{"i":0,"v":-0.0042},{"i":9,"v":-0.004},{"i":19,"v":-0.0042},{"i":24,"v":-0.0047},{"i":30,"v":-0.0054},{"i":38,"v":-0.0065},{"i":45,"v":-0.0073},{"i":52,"v":-0.0081},{"i":61,"v":-0.0088},{"i":68,"v":-0.0094},{"i":76,"v":-0.01},{"i":84,"v":-0.0103},{"i":91,"v":-0.01},{"i":99,"v":-0.0093},{"i":107,"v":-0.0087},{"i":113,"v":-0.0075},{"i":120,"v":-0.0056},{"i":127,"v":-0.0038},{"i":133,"v":-0.002},{"i":139,"v":-0.0009},{"i":145,"v":0}]
},
"vconcat":[
{
 "width":1319,"height":362,
 "layer":[
  {"data":{"name":"rb"},"mark":{"type":"line","color":"#ff0000","strokeWidth":1,"clip":true},
   "encoding":{"x":{"field":"i","type":"quantitative","scale":{"domain":[-0.2,164.675],"nice":false},"axis":null},
    "y":{"field":"uo","type":"quantitative","title":null,"scale":{"domain":[1.20307,1.24079],"nice":false,"zero":false},
     "axis":{"orient":"right","values":[1.2378,1.2344,1.2275,1.2241,1.2206,1.2172,1.2138,1.2103,1.2069,1.2035],"format":".5f","title":null}}}},
  {"data":{"name":"rb"},"mark":{"type":"line","color":"#ff0000","strokeWidth":1,"clip":true},
   "encoding":{"x":{"field":"i","type":"quantitative","axis":null},
    "y":{"field":"ui","type":"quantitative","title":null}}},
  {"data":{"name":"rb"},"mark":{"type":"line","color":"#ff0000","strokeWidth":1,"clip":true},
   "encoding":{"x":{"field":"i","type":"quantitative","axis":null},
    "y":{"field":"li","type":"quantitative","title":null}}},
  {"data":{"name":"rb"},"mark":{"type":"line","color":"#ff0000","strokeWidth":1,"clip":true},
   "encoding":{"x":{"field":"i","type":"quantitative","axis":null},
    "y":{"field":"lo","type":"quantitative","title":null}}},
  {"data":{"name":"bb"},"mark":{"type":"line","color":"#0000ff","strokeWidth":1,"clip":true},
   "encoding":{"x":{"field":"i","type":"quantitative","axis":null},
    "y":{"field":"uo","type":"quantitative","title":null}}},
  {"data":{"name":"bb"},"mark":{"type":"line","color":"#0000ff","strokeWidth":1,"clip":true},
   "encoding":{"x":{"field":"i","type":"quantitative","axis":null},
    "y":{"field":"ui","type":"quantitative","title":null}}},
  {"data":{"name":"bb"},"mark":{"type":"line","color":"#0000ff","strokeWidth":1,"clip":true},
   "encoding":{"x":{"field":"i","type":"quantitative","axis":null},
    "y":{"field":"li","type":"quantitative","title":null}}},
  {"data":{"name":"bb"},"mark":{"type":"line","color":"#0000ff","strokeWidth":1,"clip":true},
   "encoding":{"x":{"field":"i","type":"quantitative","axis":null},
    "y":{"field":"lo","type":"quantitative","title":null}}},
  {"data":{"values":[{"p":1.23083}]},"mark":{"type":"rule","color":"#a8a8a8","strokeWidth":1,"strokeDash":[1,2]},
   "encoding":{"y":{"field":"p","type":"quantitative","title":null}}},
  {"data":{"name":"cma"},"mark":{"type":"line","color":"#2ee4f0","strokeWidth":3,"clip":true},
   "encoding":{"x":{"field":"i","type":"quantitative","axis":null},
    "y":{"field":"p","type":"quantitative","title":null}}},
  {"data":{"name":"rma"},"mark":{"type":"line","color":"#ff0000","strokeWidth":3,"clip":true},
   "encoding":{"x":{"field":"i","type":"quantitative","axis":null},
    "y":{"field":"p","type":"quantitative","title":null}}},
  {"data":{"name":"candles"},"mark":{"type":"rule","strokeWidth":1},
   "encoding":{"x":{"field":"i","type":"quantitative","axis":null},
    "y":{"field":"l","type":"quantitative","title":null},
    "y2":{"field":"h"},
    "color":{"condition":{"test":"datum.c >= datum.o","value":"#2b8ef0"},"value":"#f0268a"}}},
  {"data":{"name":"candles"},"mark":{"type":"bar","width":4,"strokeWidth":1},
   "encoding":{"x":{"field":"i","type":"quantitative","axis":null},
    "y":{"field":"o","type":"quantitative","title":null},
    "y2":{"field":"c"},
    "fill":{"condition":{"test":"datum.c >= datum.o","value":"#2b8ef0"},"value":"#f0268a"},
    "stroke":{"condition":{"test":"datum.c >= datum.o","value":"#2b8ef0"},"value":"#f0268a"}}},
  {"data":{"name":"bma"},"mark":{"type":"line","color":"#0000ff","strokeWidth":3,"clip":true},
   "encoding":{"x":{"field":"i","type":"quantitative","axis":null},
    "y":{"field":"p","type":"quantitative","title":null}}},
  {"data":{"name":"gma"},"mark":{"type":"line","color":"#22e01a","strokeWidth":2,"clip":true},
   "encoding":{"x":{"field":"i","type":"quantitative","axis":null},
    "y":{"field":"p","type":"quantitative","title":null}}},
  {"data":{"name":"levels"},"mark":{"type":"rule","strokeWidth":7,"strokeCap":"round"},
   "encoding":{"x":{"field":"a","type":"quantitative","axis":null},
    "x2":{"field":"b"},
    "y":{"field":"p","type":"quantitative","title":null},
    "color":{"field":"c","type":"nominal","scale":{"domain":["b","g"],"range":["#4a55c6","#2f9c4a"]},"legend":null}}},
  {"data":{"name":"trends"},"mark":{"type":"rule","strokeWidth":4,"color":"#4a55c6","strokeCap":"round"},
   "encoding":{"x":{"field":"a","type":"quantitative","axis":null},
    "x2":{"field":"b"},
    "y":{"field":"p1","type":"quantitative","title":null},
    "y2":{"field":"p2"}}},
  {"data":{"name":"ellipse"},"mark":{"type":"line","color":"#ff8020","strokeWidth":3,"interpolate":"cardinal-closed"},
   "encoding":{"x":{"field":"i","type":"quantitative","axis":null},
    "y":{"field":"p","type":"quantitative","title":null},
    "order":{"field":"o","type":"quantitative"}}},
  {"data":{"values":[{"t":"EURUSDpro,H1  1.23074 1.23087 1.23026 1.23083"}]},"mark":{"type":"text","align":"left","baseline":"middle","fontSize":10,"font":"Liberation Sans","color":"#000000"},
   "encoding":{"x":{"datum":0.55,"type":"quantitative","axis":null},
    "y":{"datum":1.23995,"type":"quantitative","title":null},
    "text":{"field":"t"}}},
  {"data":{"values":[{"k":1}]},"mark":{"type":"point","shape":"triangle-down","filled":true,"size":30,"color":"#b4b4b4","opacity":1},
   "encoding":{"x":{"datum":129.9,"type":"quantitative","axis":null},
    "y":{"datum":1.2406,"type":"quantitative","title":null}}},
  {"data":{"values":[{"p":1.23083,"t":"1.23083"}]},"mark":{"type":"rect","color":"#000000"},
   "encoding":{"x":{"datum":164.8,"type":"quantitative","axis":null},
    "x2":{"datum":170.5},
    "y":{"datum":1.23016,"type":"quantitative","title":null},
    "y2":{"datum":1.23141}}},
  {"data":{"values":[{"p":1.23083,"t":"1.23083"}]},"mark":{"type":"text","align":"left","baseline":"middle","fontSize":9.5,"font":"Liberation Sans","color":"#ffffff"},
   "encoding":{"x":{"datum":165.4,"type":"quantitative","axis":null},
    "y":{"field":"p","type":"quantitative","title":null},
    "text":{"field":"t"}}}
 ]
},
{
 "width":1319,"height":172,
 "layer":[
  {"data":{"name":"srd"},"mark":{"type":"line","color":"#ff0000","strokeWidth":1,"strokeDash":[2,2],"clip":true},
   "encoding":{"x":{"field":"i","type":"quantitative","scale":{"domain":[-0.2,164.675],"nice":false},"axis":null},
    "y":{"field":"v","type":"quantitative","title":null,"scale":{"domain":[-4,108],"nice":false,"zero":false},
     "axis":{"orient":"right","values":[0,0.0794,104.9609],"labelExpr":"datum.value > 50 ? '104.9609' : (datum.value > 0.01 ? '0.0794' : '0.00')","title":null}}}},
  {"data":{"name":"srt"},"mark":{"type":"line","color":"#ff0000","strokeWidth":2.5,"clip":true},
   "encoding":{"x":{"field":"i","type":"quantitative","axis":null},
    "y":{"field":"v","type":"quantitative","title":null}}},
  {"data":{"name":"sbd"},"mark":{"type":"line","color":"#0000ff","strokeWidth":1,"strokeDash":[4,3],"clip":true},
   "encoding":{"x":{"field":"i","type":"quantitative","axis":null},
    "y":{"field":"v","type":"quantitative","title":null}}},
  {"data":{"name":"sb"},"mark":{"type":"line","color":"#0000ff","strokeWidth":2.5,"clip":true},
   "encoding":{"x":{"field":"i","type":"quantitative","axis":null},
    "y":{"field":"v","type":"quantitative","title":null}}},
  {"data":{"name":"sg"},"mark":{"type":"line","color":"#33ee22","strokeWidth":2,"clip":true},
   "encoding":{"x":{"field":"i","type":"quantitative","axis":null},
    "y":{"field":"v","type":"quantitative","title":null}}},
  {"data":{"name":"sr"},"mark":{"type":"line","color":"#ff0000","strokeWidth":1,"strokeDash":[3,2],"clip":true},
   "encoding":{"x":{"field":"i","type":"quantitative","axis":null},
    "y":{"field":"v","type":"quantitative","title":null}}},
  {"data":{"values":[{"a":119.6,"b":131.8,"v1":1.35,"v2":26.9},{"a":114.7,"b":123.3,"v1":1.2,"v2":-4}]},"mark":{"type":"rule","strokeWidth":4,"color":"#4a55c6","strokeCap":"round","clip":true},
   "encoding":{"x":{"field":"a","type":"quantitative","axis":null},
    "x2":{"field":"b"},
    "y":{"field":"v1","type":"quantitative","title":null},
    "y2":{"field":"v2"}}}
 ]
},
{
 "width":1319,"height":184,
 "layer":[
  {"data":{"name":"mm"},"mark":{"type":"line","color":"#ff1493","strokeWidth":1,"clip":true},
   "encoding":{"x":{"field":"i","type":"quantitative","title":null,"scale":{"domain":[-0.2,164.675],"nice":false},
     "axis":{"values":[0,8,16,24,32,40,48,56,64,72,80,88,96,104,112,120,128,136,144],"labelExpr":"['20 Jul 2012','20 Jul 15:00','20 Jul 23:00','23 Jul 07:00','23 Jul 15:00','23 Jul 23:00','24 Jul 07:00','24 Jul 15:00','24 Jul 23:00','25 Jul 07:00','25 Jul 15:00','25 Jul 23:00','26 Jul 07:00','26 Jul 15:00','26 Jul 23:00','27 Jul 07:00','27 Jul 15:00','27 Jul 23:00','30 Jul 07:00'][round(datum.value/8)]","labelAlign":"left","labelDx":1,"tickSize":4,"labelPadding":2,"title":null}},
    "y":{"field":"v","type":"quantitative","title":null,"scale":{"domain":[-0.0115,0.0115],"nice":false,"zero":false},
     "axis":{"orient":"right","values":[0.01069,0,-0.01069],"labelExpr":"datum.value > 0.005 ? '0.01069' : (datum.value < -0.005 ? '-0.01069' : '0.00')","title":null}}}},
  {"data":{"values":[{"z":0}]},"mark":{"type":"rule","color":"#c8a0c8","strokeWidth":1,"strokeDash":[3,3]},
   "encoding":{"y":{"field":"z","type":"quantitative","title":null}}},
  {"data":{"name":"mc"},"mark":{"type":"line","color":"#30ecf0","strokeWidth":3,"clip":true},
   "encoding":{"x":{"field":"i","type":"quantitative","title":null},
    "y":{"field":"v","type":"quantitative","title":null}}},
  {"data":{"name":"mr"},"mark":{"type":"line","color":"#ff0000","strokeWidth":1,"clip":true},
   "encoding":{"x":{"field":"i","type":"quantitative","title":null},
    "y":{"field":"v","type":"quantitative","title":null}}},
  {"data":{"name":"mb"},"mark":{"type":"line","color":"#0000ff","strokeWidth":1,"clip":true},
   "encoding":{"x":{"field":"i","type":"quantitative","title":null},
    "y":{"field":"v","type":"quantitative","title":null}}},
  {"data":{"values":[{"a":123.9,"b":146.4,"v1":0.0115,"v2":0.009}]},"mark":{"type":"rule","strokeWidth":4,"color":"#4a55c6","strokeCap":"round","clip":true},
   "encoding":{"x":{"field":"a","type":"quantitative","title":null},
    "x2":{"field":"b"},
    "y":{"field":"v1","type":"quantitative","title":null},
    "y2":{"field":"v2"}}}
 ]
}
]
}
